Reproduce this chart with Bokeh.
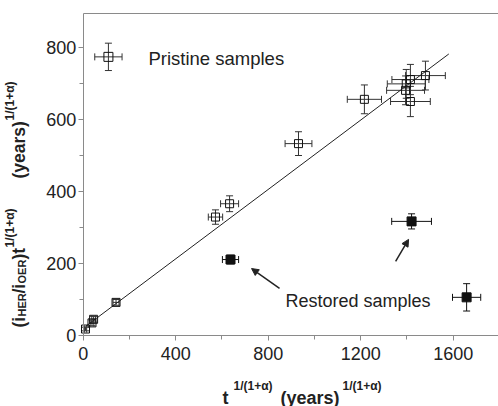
import math
from bokeh.plotting import figure
from bokeh.models import (ColumnDataSource, Whisker, TeeHead, Label, Arrow, NormalHead,
                          FixedTicker, Range1d, LinearAxis)
from bokeh.embed import file_html
from bokeh.resources import INLINE

# ---------------- data ----------------
pristine_x = [10, 38, 45, 142, 572, 633, 931, 1216, 1394, 1397, 1415, 1415, 1480]
pristine_y = [18, 35, 45, 92, 329, 366, 533, 656, 681, 699, 711, 650, 722]
pristine_xerr = [5, 8, 8, 13, 31, 39, 58, 74, 82, 82, 80, 86, 86]
pristine_yerr = [5, 8, 8, 8, 20, 22, 33, 40, 40, 40, 42, 42, 40]

legend_x = [109]
legend_y = [774]
legend_xerr = [59]
legend_yerr = [38]

restored_x = [637, 1420, 1658]
restored_y = [211, 317, 106]
restored_xerr = [35, 86, 61]
restored_yerr = [12, 21, 38]

fit_x = [10, 1581]
fit_y = [25, 782]

x_major = [0, 400, 800, 1200, 1600]
x_minor = [200, 600, 1000, 1400]
y_major = [0, 200, 400, 600, 800]
y_minor = [100, 300, 500, 700]

X_MAX = 1796
Y_MAX = 894

FONT = "Liberation Sans"
AXIS_GRAY = "#8a8a8a"
TEXT = "#222222"

W, H = 498, 406
# frame covers the whole canvas; axes are pinned at the data origin
x_start = -82.7 / 0.23125
y_start = -(H - 335) / 0.36
p = figure(width=W, height=H, output_backend="svg", toolbar_location=None,
           x_range=Range1d(x_start, x_start + W / 0.23125),
           y_range=Range1d(y_start, y_start + H / 0.36),
           min_border_left=0, min_border_right=0, min_border_top=0, min_border_bottom=0)
p.outline_line_color = None
p.grid.grid_line_color = None
p.background_fill_color = "white"
p.border_fill_color = "white"

for ax, maj, mnr, bnd in ((p.xaxis[0], x_major, x_minor, (0, X_MAX)),
                          (p.yaxis[0], y_major, y_minor, (0, Y_MAX))):
    ax.fixed_location = 0
    ax.bounds = bnd
    ax.ticker = FixedTicker(ticks=maj, minor_ticks=mnr)
    ax.axis_line_color = AXIS_GRAY
    ax.major_tick_line_color = AXIS_GRAY
    ax.minor_tick_line_color = AXIS_GRAY
    ax.major_tick_in = 0
    ax.major_tick_out = 5
    ax.minor_tick_in = 0
    ax.minor_tick_out = 4
    ax.major_label_text_font = FONT
    ax.major_label_text_font_size = "18px"
    ax.major_label_text_color = TEXT
p.xaxis.major_label_standoff = 6
p.yaxis.major_label_standoff = 2

top_axis = LinearAxis(fixed_location=Y_MAX, bounds=(0, X_MAX), ticker=FixedTicker(ticks=[]),
                      major_label_text_font_size="0px", major_tick_out=0, major_tick_in=0,
                      minor_tick_out=0, minor_tick_in=0, axis_line_color=AXIS_GRAY)
p.add_layout(top_axis, "above")

# fit line
p.line(fit_x, fit_y, line_color=TEXT, line_width=1)


def add_errbars(xs, ys, xe, ye, color):
    src = ColumnDataSource(dict(
        x=xs, y=ys,
        xl=[a - b for a, b in zip(xs, xe)], xu=[a + b for a, b in zip(xs, xe)],
        yl=[a - b for a, b in zip(ys, ye)], yu=[a + b for a, b in zip(ys, ye)]))
    p.add_layout(Whisker(source=src, base="x", lower="yl", upper="yu", dimension="height",
                         line_color=color, line_width=1,
                         lower_head=TeeHead(size=7, line_color=color, line_width=1),
                         upper_head=TeeHead(size=7, line_color=color, line_width=1)))
    p.add_layout(Whisker(source=src, base="y", lower="xl", upper="xu", dimension="width",
                         line_color=color, line_width=1,
                         lower_head=TeeHead(size=7, line_color=color, line_width=1),
                         upper_head=TeeHead(size=7, line_color=color, line_width=1)))
    return src


ps = add_errbars(pristine_x, pristine_y, pristine_xerr, pristine_yerr, "#333333")
ls = add_errbars(legend_x, legend_y, legend_xerr, legend_yerr, "#333333")
rs = add_errbars(restored_x, restored_y, restored_xerr, restored_yerr, "#111111")

p.scatter("x", "y", source=ps, marker="square", size=8, fill_color=None,
          line_color="#111111", line_width=1)
p.scatter("x", "y", source=ls, marker="square", size=9, fill_color=None,
          line_color="#111111", line_width=1)
p.scatter("x", "y", source=rs, marker="square", size=9, fill_color="#111111",
          line_color="#111111", line_width=1)

# in-plot texts
p.add_layout(Label(x=282, y=770, text="Pristine samples", text_font=FONT,
                   text_font_size="18.5px", text_color=TEXT, text_baseline="alphabetic"))
p.add_layout(Label(x=875, y=96, text="Restored samples", text_font=FONT,
                   text_font_size="18px", text_color=TEXT, text_baseline="alphabetic"))

p.add_layout(Arrow(x_start=849, y_start=131, x_end=728, y_end=186, line_width=1.5,
                   line_color=TEXT,
                   end=NormalHead(size=7, fill_color=TEXT, line_color=TEXT)))
p.add_layout(Arrow(x_start=1351, y_start=206, x_end=1407, y_end=267, line_width=1.5,
                   line_color=TEXT,
                   end=NormalHead(size=7, fill_color=TEXT, line_color=TEXT)))


# axis titles, placed in canvas pixels (x from left, y from bottom)
def title_piece(px, py, text, size, angle=0.0):
    p.add_layout(Label(x=px, y=H - py, x_units="screen", y_units="screen", text=text,
                       text_font=FONT, text_font_style="bold", text_font_size=f"{size}px",
                       text_color=TEXT, text_baseline="alphabetic", text_align="left",
                       angle=angle))


SUP = "1/(1+\u03b1)"
# x title
title_piece(222, 397, "t", 18)
title_piece(233, 385, SUP, 12)
title_piece(280, 397, "(years)", 18)
title_piece(342, 385, SUP, 12)

# y title (rotated, reads bottom to top)
A = math.pi / 2
title_piece(18, 327, "(i", 17.5, A)
title_piece(21, 316, "HER", 11, A)
title_piece(18, 293, "/i", 17.5, A)
title_piece(21, 283, "OER", 11, A)
title_piece(18, 259, ")t", 17.5, A)
title_piece(9, 247, SUP, 12, A)
title_piece(18, 178, "(years)", 17.5, A)
title_piece(9, 120, SUP, 12, A)

open("out.html", "w").write(file_html(p, INLINE))
